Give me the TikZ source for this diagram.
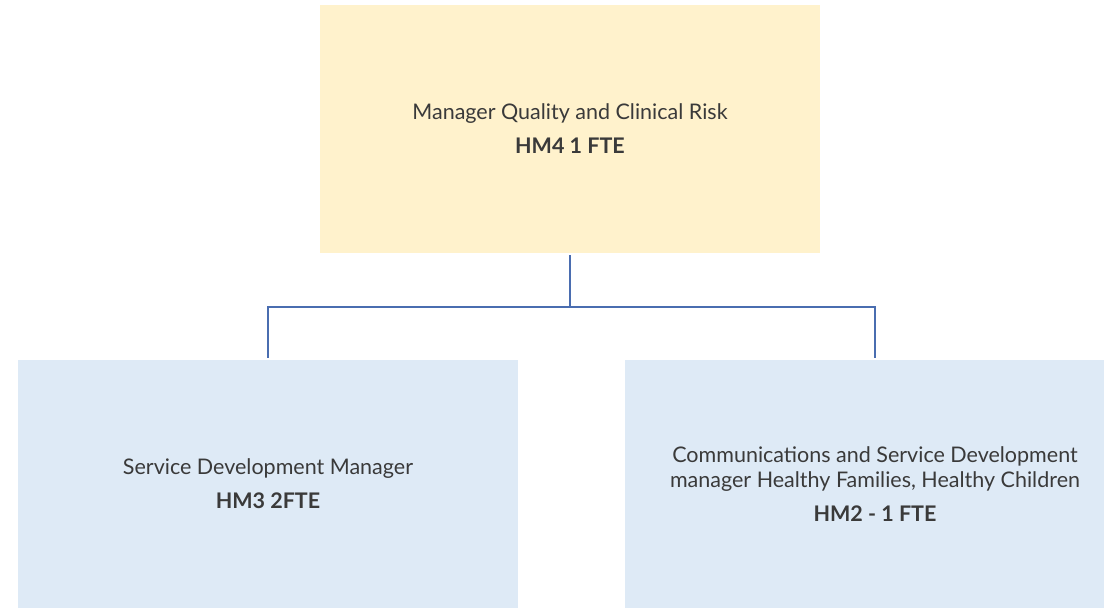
\documentclass[tikz,border=0pt]{standalone}
\usepackage{fontspec}
\setmainfont{Lato}
\definecolor{boss}{HTML}{FFF2CC}
\definecolor{staff}{HTML}{DEEAF6}
\definecolor{link}{HTML}{4A6DB0}
\definecolor{txt}{HTML}{3A3A3A}
\tikzset{post/.style={minimum width=500pt, minimum height=248pt, inner sep=0pt, text=txt, align=center, font=\fontsize{21.5}{25}\selectfont}}
\begin{document}
\begin{tikzpicture}[x=1pt,y=-1pt]
    \useasboundingbox (0,0) rectangle (1104,609);
    \node[post, fill=boss] (mgr) at (570,129) {Manager Quality and Clinical Risk\\[9pt]\textbf{HM4 1 FTE}};
    \node[post, fill=staff] (sdm) at (268,484) {Service Development Manager\\[9pt]\textbf{HM3 2FTE}};
    \node[post, fill=staff] (comm) at (875,484) {Communications and Service Development\\manager Healthy Families, Healthy Children\\[9pt]\textbf{HM2 - 1 FTE}};
    \draw[link, line width=1.5pt] (mgr.south) ++(0,2) -- ++(0,52) coordinate (split);
    \draw[link, line width=1.5pt, shorten >=2pt] (split) -| (sdm.north);
    \draw[link, line width=1.5pt, shorten >=2pt] (split) -| (comm.north);
\end{tikzpicture}
\end{document}
